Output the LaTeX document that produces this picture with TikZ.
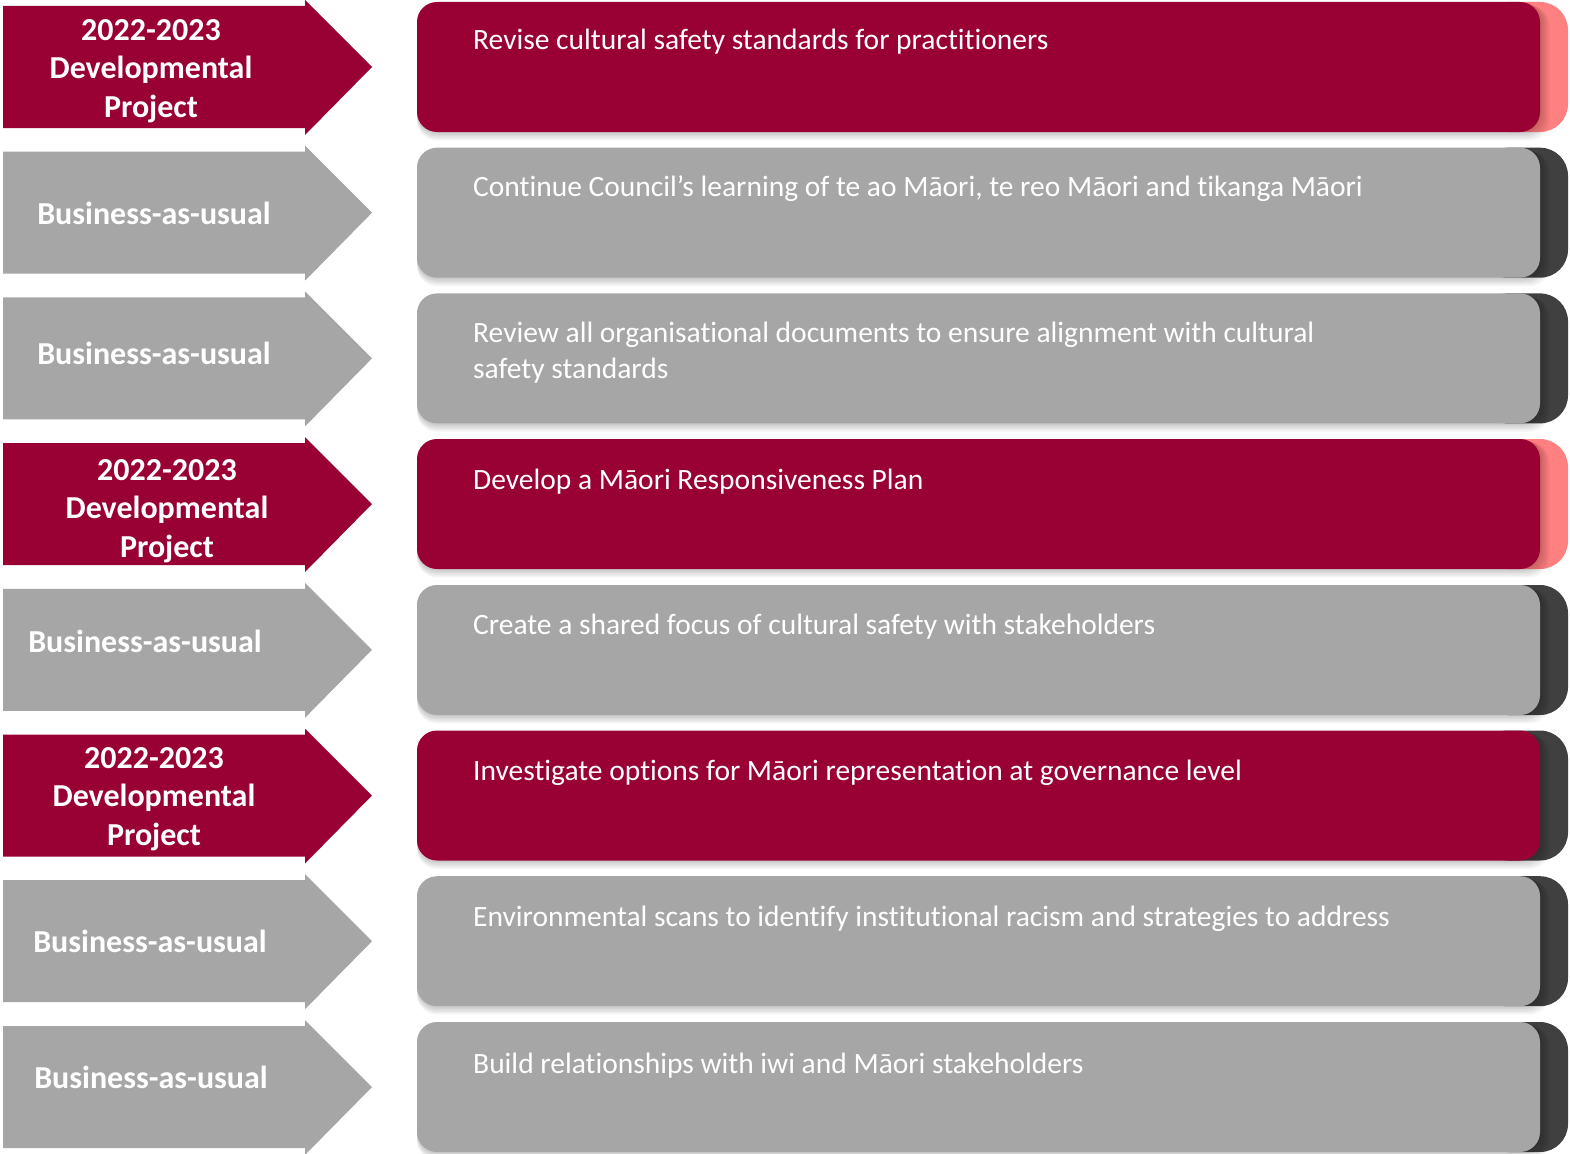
\documentclass[tikz,border=0pt]{standalone}
\usepackage{fontspec}
\setmainfont{Carlito}[Ligatures=NoCommon]
\definecolor{crim}{HTML}{990033}
\definecolor{gry}{HTML}{A6A6A6}
\definecolor{salm}{HTML}{FF8080}
\definecolor{dk}{HTML}{404040}
\tikzset{
  arrowshape/.style={fill=#1, draw=none},
  mainbox/.style={fill=#1, draw=none, rounded corners=20pt},
  backbox/.style={fill=#1, draw=none, rounded corners=28pt},
  boxtext/.style={text=white, inner sep=0pt, anchor=base west, align=left, font=\fontsize{29.5}{36}\selectfont},
  labeltext/.style={text=white, inner sep=0pt, anchor=base, align=center, font=\fontsize{32}{38.4}\selectfont\bfseries},
}
% #1 row name, #2 center y, #3 top y, #4 fill, #5 back colour
\newcommand\myrow[5]{%
  \fill[arrowshape=#4] (3,#2-61) -- (305,#2-61) -- (305,#2-67) -- (372,#2) -- (305,#2+68) -- (305,#2+61) -- (3,#2+61) -- cycle;
  \fill[backbox=#5] (1480,#3) rectangle (1568,#3+130);
  \foreach \s in {1,...,6}{
    \fill[black, opacity=0.035, rounded corners=20pt] (417,#3+\s*0.6) rectangle (1540+\s*1.6,#3+130+\s*1.4);
  }
  \fill[mainbox=#4] (417,#3) rectangle (1540,#3+130);
  \coordinate (#1) at (417,#3);
}
\begin{document}
\begin{tikzpicture}[x=1pt,y=-1pt]
\useasboundingbox (0,0) rectangle (1570,1153);
\fill[white] (0,0) rectangle (1570,1153);

\myrow{r1}{67}{2}{crim}{salm}
\myrow{r2}{212.7}{147.7}{gry}{dk}
\myrow{r3}{358.4}{293.4}{gry}{dk}
\myrow{r4}{504}{439}{crim}{salm}
\myrow{r5}{649.8}{585}{gry}{dk}
\myrow{r6}{795.5}{730.5}{crim}{dk}
\myrow{r7}{941.2}{876.2}{gry}{dk}
\myrow{r8}{1087}{1022}{gry}{dk}

% multi-line nodes: base anchor is the baseline of the last line
\node[labeltext] (l1) at (151,117.3) {2022-2023\\Developmental\\Project};
\node[labeltext] (l2) at (154,224.2) {Business-as-usual};
\node[labeltext] (l3) at (154,364.2) {Business-as-usual};
\node[labeltext] (l4) at (167,557.3) {2022-2023\\Developmental\\Project};
\node[labeltext] (l5) at (145,652.2) {Business-as-usual};
\node[labeltext] (l6) at (154,845.3) {2022-2023\\Developmental\\Project};
\node[labeltext] (l7) at (150,952.2) {Business-as-usual};
\node[labeltext] (l8) at (151,1088.2) {Business-as-usual};

\node[boxtext] (t1) at (473,50) {Revise cultural safety standards for practitioners};
\node[boxtext] (t2) at (473,196) {Continue Council’s learning of te ao Māori, te reo Māori and tikanga Māori};
\node[boxtext] (t3) at (473,378) {Review all organisational documents to ensure alignment with cultural\\safety standards};
\node[boxtext] (t4) at (473,489) {Develop a Māori Responsiveness Plan};
\node[boxtext] (t5) at (473,634) {Create a shared focus of cultural safety with stakeholders};
\node[boxtext] (t6) at (473,780) {Investigate options for Māori representation at governance level};
\node[boxtext] (t7) at (473,926) {Environmental scans to identify institutional racism and strategies to address};
\node[boxtext] (t8) at (473,1073) {Build relationships with iwi and Māori stakeholders};
\end{tikzpicture}
\end{document}
